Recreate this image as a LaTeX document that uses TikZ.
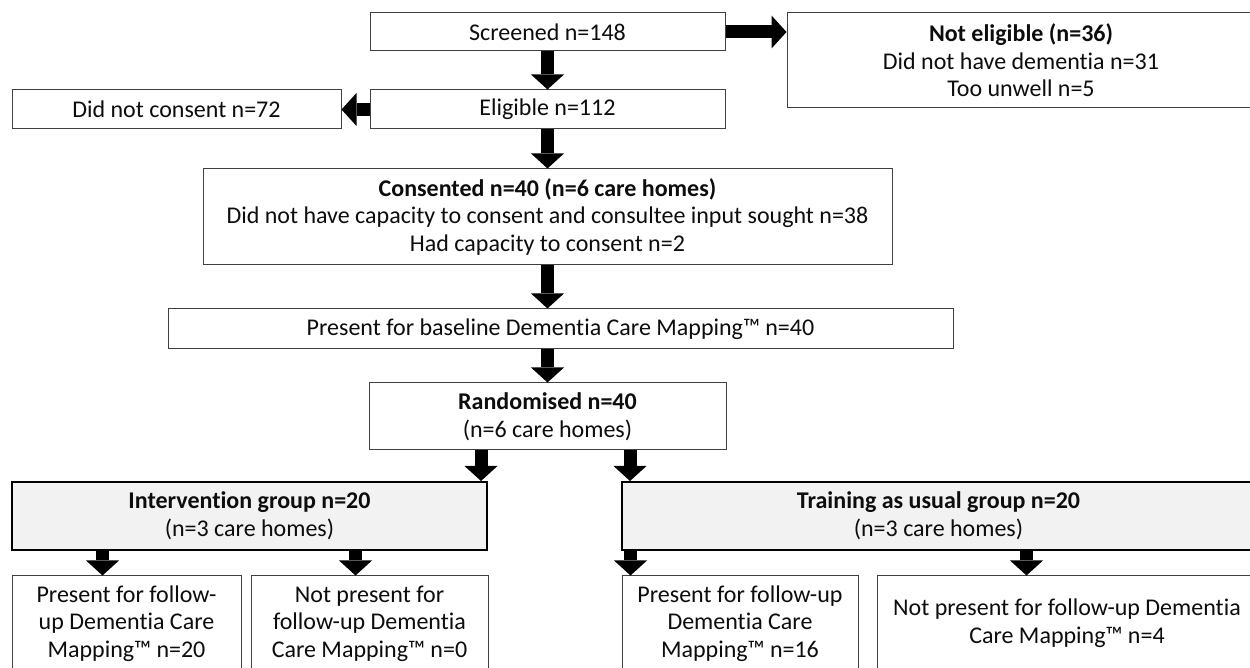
\documentclass[tikz,border=0pt]{standalone}
\usepackage{fontspec}
\setmainfont{Carlito}[Ligatures=NoCommon]
\usetikzlibrary{arrows.meta, positioning, calc}
\tikzset{
    box/.style={rectangle, draw=black!75, line width=0.5pt, fill=white, text=black!95, align=center, inner sep=2pt, font=\fontsize{12}{13.8}\selectfont},
    greybox/.style={box, draw=black, line width=1pt, fill=black!5},
    blk/.style={line width=6.5pt, -{Triangle[width=16.5pt, length=7.5pt, line width'=0pt]}}
}

\begin{document}
\begin{tikzpicture}[x=0.5pt, y=-0.5pt]
        \path[clip, use as bounding box] (0,0) rectangle (1250,668);

        % Screening and consent
        \node (scr) at (547.5,32) [box, minimum width=177.5pt, minimum height=19pt] {Screened n=148};
        \node (ne) at (1021,60.5) [box, minimum width=234pt, minimum height=47.5pt] {\textbf{Not eligible (n=36)}\\Did not have dementia n=31\\Too unwell n=5};
        \node (elig) at (547.5,109.5) [box, minimum width=177.5pt, minimum height=19.5pt] {Eligible n=112};
        \node (dnc) at (176.5,109.5) [box, minimum width=164.5pt, minimum height=19.5pt] {Did not consent n=72};
        \node (cons) at (547.5,217) [box, minimum width=344.5pt, minimum height=48pt] {\textbf{Consented n=40 (n=6 care homes)}\\Did not have capacity to consent and consultee input sought n=38\\Had capacity to consent n=2};
        \node (base) at (560.5,329) [box, minimum width=392.5pt, minimum height=20pt] {Present for baseline Dementia Care Mapping™ n=40};
        \node (rand) at (547.5,416.5) [box, minimum width=178.5pt, minimum height=33.5pt] {\textbf{Randomised n=40}\\(n=6 care homes)};

        % Groups
        \node (int) at (249.5,516) [greybox, minimum width=237.5pt, minimum height=34pt] {\textbf{Intervention group n=20}\\(n=3 care homes)};
        \node (tau) at (938.5,516) [greybox, minimum width=316.5pt, minimum height=34pt] {\textbf{Training as usual group n=20}\\(n=3 care homes)};

        % Follow-up
        \node (pa) at (126.5,623.5) [box, minimum width=114.5pt, minimum height=47.5pt] {Present for follow-\\up Dementia Care\\Mapping™ n=20};
        \node (pb) at (369.5,623.5) [box, minimum width=118.5pt, minimum height=47.5pt] {Not present for\\follow-up Dementia\\Care Mapping™ n=0};
        \node (pc) at (740,623.5) [box, minimum width=118pt, minimum height=47.5pt] {Present for follow-up\\Dementia Care\\Mapping™ n=16};
        \node (pd) at (1067,623.5) [box, minimum width=190pt, minimum height=47.5pt] {Not present for follow-up Dementia\\Care Mapping™ n=4};

        % Arrow columns
        \coordinate (int-in) at ($(int.north east)+(-7,0)$);
        \coordinate (tau-in) at ($(tau.north west)+(9,0)$);
        \coordinate (pa-in) at ($(pa.north)+(-24,0)$);
        \coordinate (pb-in) at ($(pb.north)+(-14,0)$);
        \coordinate (pc-in) at ($(pc.north west)+(9,0)$);
        \coordinate (pd-in) at ($(pd.north west)+(150,0)$);

        % Arrows
        \draw[blk] (scr.east) -- (scr.east -| ne.west);
        \draw[blk] (scr.south) -- (elig.north);
        \draw[blk] (elig.west) -- (dnc.east);
        \draw[blk] (elig.south) -- (cons.north);
        \draw[blk] (cons.south) -- (cons.south |- base.north);
        \draw[blk] (rand.north |- base.south) -- (rand.north);
        \draw[blk] (int-in |- rand.south) -- (int-in);
        \draw[blk] (tau-in |- rand.south) -- (tau-in);
        \draw[blk] (pa-in |- int.south) -- (pa-in);
        \draw[blk] (pb-in |- int.south) -- (pb-in);
        \draw[blk] (pc-in |- tau.south) -- (pc-in);
        \draw[blk] (pd-in |- tau.south) -- (pd-in);
    \end{tikzpicture}
\end{document}
